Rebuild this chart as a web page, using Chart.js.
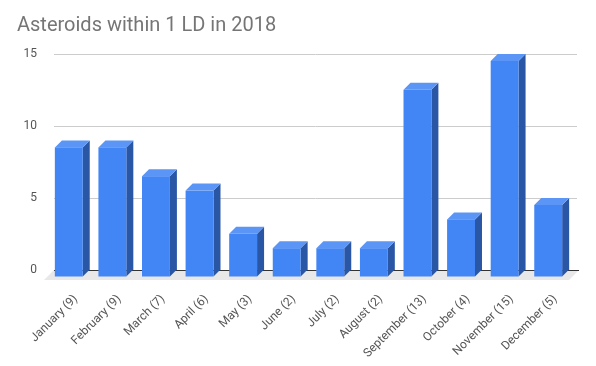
<!DOCTYPE html>
<html>
<head>
<meta charset="utf-8">
<script src="https://cdn.jsdelivr.net/npm/chart.js@4/dist/chart.umd.min.js"></script>
<style>
html,body{margin:0;padding:0;background:#fff;}
#wrap{width:596px;height:366px;}
</style>
</head>
<body>
<div id="wrap"><canvas id="c" width="596" height="366"></canvas></div>
<script>
const months = ["January", "February", "March", "April", "May", "June", "July", "August", "September", "October", "November", "December"];
const counts = [9, 9, 7, 6, 3, 2, 2, 2, 13, 4, 15, 5];
const categories = months.map((m, i) => m + " (" + counts[i] + ")");
const yTicks = [0, 5, 10, 15];
const titleText = "Asteroids within 1 LD in 2018";

const DEPTH = 7;
const FRONT = "#4285f4", TOP = "#5b95f5", SIDE = "#2a56a6", FLOOR = "#e8e8e8";

const bars3d = {
  id: "bars3d",
  beforeDatasetsDraw(chart) {
    const ctx = chart.ctx, a = chart.chartArea;
    const yb = chart.scales.y.getPixelForValue(0);
    ctx.save();
    ctx.fillStyle = FLOOR;
    ctx.beginPath();
    ctx.moveTo(a.left, yb);
    ctx.lineTo(a.right + 2, yb);
    ctx.lineTo(a.right - 8, yb + 10);
    ctx.lineTo(a.left - 10, yb + 10);
    ctx.closePath();
    ctx.fill();
    ctx.strokeStyle = "#333";
    ctx.lineWidth = 1;
    ctx.beginPath();
    ctx.moveTo(a.left, Math.round(yb) + 0.5);
    ctx.lineTo(a.right + 2, Math.round(yb) + 0.5);
    ctx.stroke();
    ctx.restore();
  },
  afterDatasetsDraw(chart) {
    const ctx = chart.ctx, d = DEPTH;
    const meta = chart.getDatasetMeta(0);
    ctx.save();
    meta.data.forEach(el => {
      const p = el.getProps(["x", "y", "base", "width"], true);
      const l = p.x - p.width / 2, r = p.x + p.width / 2, t = p.y, b = p.base;
      // side
      ctx.fillStyle = SIDE;
      ctx.beginPath();
      ctx.moveTo(r - d, t + d); ctx.lineTo(r, t); ctx.lineTo(r, b); ctx.lineTo(r - d, b + d);
      ctx.closePath(); ctx.fill();
      // top
      ctx.fillStyle = TOP;
      ctx.beginPath();
      ctx.moveTo(l - d, t + d); ctx.lineTo(l, t); ctx.lineTo(r, t); ctx.lineTo(r - d, t + d);
      ctx.closePath(); ctx.fill();
      // front
      ctx.fillStyle = FRONT;
      ctx.fillRect(l - d, t + d, p.width, b - t);
    });
    ctx.restore();
  }
};

new Chart(document.getElementById("c"), {
  type: "bar",
  data: {
    labels: categories,
    datasets: [{
      data: counts,
      backgroundColor: "rgba(0,0,0,0)",
      borderWidth: 0,
      barPercentage: 0.64,
      categoryPercentage: 1
    }]
  },
  options: {
    responsive: false,
    animation: false,
    events: [],
    layout: { padding: { left: 17, right: 19, top: 0, bottom: 0 } },
    plugins: {
      legend: { display: false },
      tooltip: { enabled: false },
      title: {
        display: true,
        text: titleText,
        align: "start",
        color: "#757575",
        font: { family: "Roboto", size: 20, weight: "normal" },
        padding: { top: 14, bottom: 16 }
      }
    },
    scales: {
      x: {
        grid: { display: false },
        border: { display: false },
        ticks: {
          autoSkip: false,
          minRotation: 45,
          maxRotation: 45,
          padding: 14,
          color: "#555",
          font: { family: "Roboto", size: 12 }
        },
        afterFit(s) { s.height = 96; }
      },
      y: {
        min: 0,
        max: 15,
        afterBuildTicks(s) { s.ticks = yTicks.map(v => ({ value: v })); },
        grid: {
          color: ctx => ctx.tick && ctx.tick.value === 0 ? "rgba(0,0,0,0)" : "#cccccc",
          drawTicks: false
        },
        border: { display: false },
        ticks: {
          padding: 17,
          color: "#555",
          font: { family: "Roboto", size: 12 }
        },
        afterFit(s) { s.width = 37; }
      }
    }
  },
  plugins: [bars3d]
});
</script>
</body>
</html>
